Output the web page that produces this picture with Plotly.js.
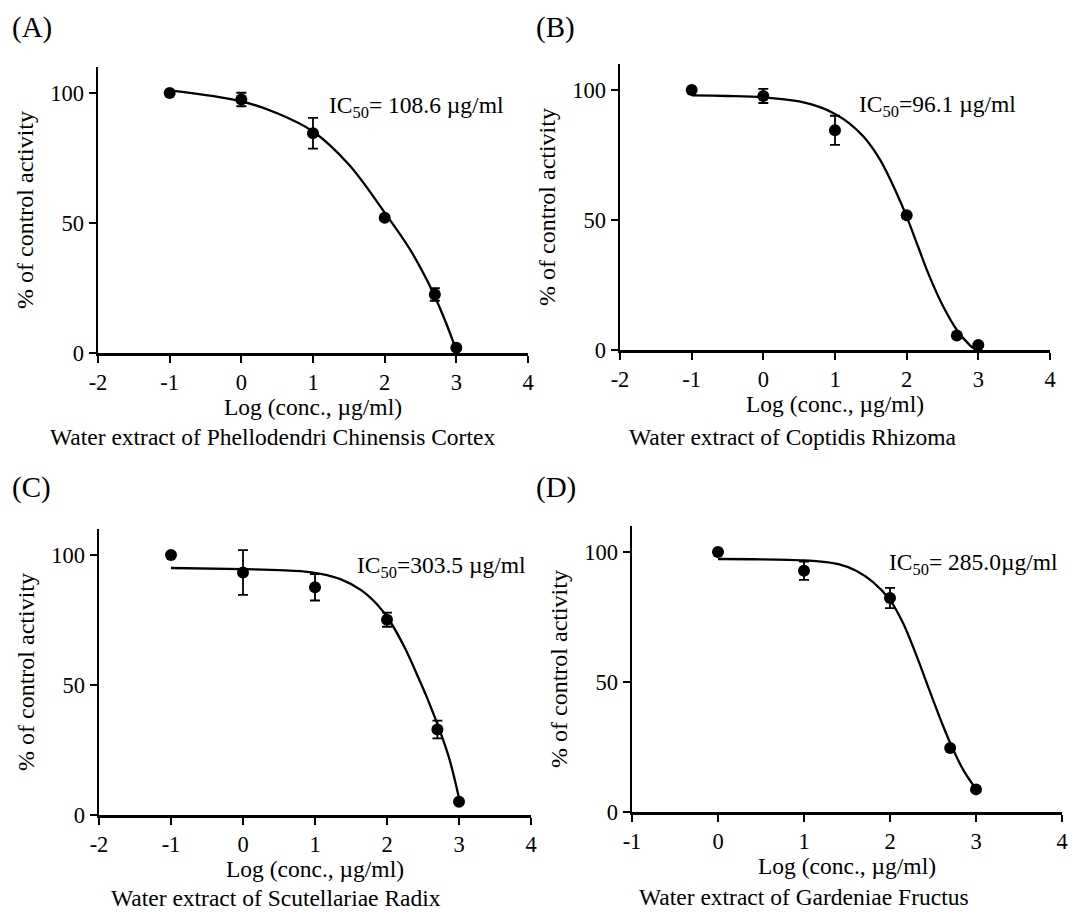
<!DOCTYPE html>
<html>
<head>
<meta charset="utf-8">
<script src="https://cdn.plot.ly/plotly-3.0.1.min.js"></script>
<style>html,body{margin:0;padding:0;background:#fff;}#chart{width:1072px;height:913px;}</style>
</head>
<body>
<div id="chart"></div>
<script>
// ---------- data ----------
// (A) Phellodendri Chinensis Cortex
const concA = [-1, 0, 1, 2, 2.7, 3];
const actA  = [100, 97.5, 84.5, 52, 22.5, 2];
const errA  = [0, 2.6, 5.9, 0, 2.4, 0];
const fitXA = [-1, 0, 0.5, 1, 1.5, 2, 2.35, 2.6, 2.7, 2.85, 3.0];
const fitYA = [101, 96.8, 92.2, 85.2, 72.5, 54.0, 40, 27.5, 21.7, 12, 1];

// (B) Coptidis Rhizoma
const concB = [-1, 0, 1, 2, 2.7, 3];
const actB  = [100, 97.7, 84.5, 51.8, 5.6, 1.9];
const errB  = [0, 2.7, 5.6, 0, 0, 0];
const fitXB = [-1, -0.5, 0, 0.5, 0.8, 1.0, 1.2, 1.4, 1.63, 1.86, 2.0, 2.16, 2.32, 2.51, 2.70, 2.88, 2.97];
const fitYB = [97.9, 97.7, 97.2, 95.6, 93.3, 90.8, 87.2, 82.0, 73.1, 60.3, 51.3, 39.7, 28.2, 16.7, 7.7, 1.9, 0];

// (C) Scutellariae Radix
const concC = [-1, 0, 1, 2, 2.7, 3];
const actC  = [100, 93.3, 87.6, 75.1, 32.9, 5.1];
const errC  = [0, 8.6, 5.1, 2.7, 3.4, 0];
const fitXC = [-1, 0, 0.5, 0.8, 1.08, 1.36, 1.64, 1.87, 2.03, 2.24, 2.43, 2.57, 2.73, 2.87, 3.0];
const fitYC = [95.0, 94.6, 94.2, 93.8, 92.7, 90.6, 86.5, 80.8, 75.0, 64.7, 53.2, 44.2, 32.7, 21.2, 6.5];

// (D) Gardeniae Fructus
const concD = [0, 1, 2, 2.7, 3];
const actD  = [100, 92.8, 82.3, 24.6, 8.7];
const errD  = [0, 3.5, 3.9, 0, 0];
const fitXD = [0, 0.5, 1.0, 1.2, 1.4, 1.6, 1.8, 2.0, 2.15, 2.3, 2.47, 2.62, 2.72, 2.85, 3.0];
const fitYD = [97.3, 97.2, 96.8, 96.3, 95.3, 92.9, 88.5, 81.5, 72.8, 60.8, 45.8, 32.9, 25.1, 16.3, 8.8];

// axis ticks and labels
const xTicks1 = [-2, -1, 0, 1, 2, 3, 4];
const xTickText1 = ['-2', '-1', '0', '1', '2', '3', '4'];
const xTicks2 = [-1, 0, 1, 2, 3, 4];
const xTickText2 = ['-1', '0', '1', '2', '3', '4'];
const yTicks = [0, 50, 100];
const yTickText = ['0', '50', '100'];

const panelLabels = ['(A)', '(B)', '(C)', '(D)'];
const extractNames = [
  'Water extract of Phellodendri Chinensis Cortex',
  'Water extract of Coptidis Rhizoma',
  'Water extract of Scutellariae Radix',
  'Water extract of Gardeniae Fructus'
];
const ic50Text = [
  'IC<sub>50</sub>= 108.6 µg/ml',
  'IC<sub>50</sub>=96.1 µg/ml',
  'IC<sub>50</sub>=303.5 µg/ml',
  'IC<sub>50</sub>= 285.0µg/ml'
];
const xTitle = 'Log (conc., µg/ml)';
const yTitle = '% of control activity';

// ---------- traces ----------
const FONT = 'Liberation Serif, "Times New Roman", Times, serif';
const sets = [
  {cx: concA, cy: actA, e: errA, fx: fitXA, fy: fitYA, ax: ''},
  {cx: concB, cy: actB, e: errB, fx: fitXB, fy: fitYB, ax: '2'},
  {cx: concC, cy: actC, e: errC, fx: fitXC, fy: fitYC, ax: '3'},
  {cx: concD, cy: actD, e: errD, fx: fitXD, fy: fitYD, ax: '4'}
];
const traces = [];
sets.forEach(s => {
  traces.push({
    type: 'scatter', mode: 'lines', x: s.fx, y: s.fy,
    xaxis: 'x' + s.ax, yaxis: 'y' + s.ax,
    line: {color: 'black', width: 2.3, shape: 'spline', smoothing: 1},
    hoverinfo: 'skip', cliponaxis: false
  });
  traces.push({
    type: 'scatter', mode: 'markers', x: s.cx, y: s.cy,
    xaxis: 'x' + s.ax, yaxis: 'y' + s.ax,
    marker: {color: 'black', size: 12},
    error_y: {type: 'data', array: s.e, visible: true, color: 'black', thickness: 1.8, width: 5},
    cliponaxis: false
  });
});

// ---------- layout ----------
function xAx(domain, anchor, tv, tt) {
  return {
    domain: domain, anchor: anchor, range: [tv[0], 4],
    tickvals: tv, ticktext: tt, ticks: 'outside', ticklen: 7, tickwidth: 2, tickcolor: 'black',
    showline: true, linewidth: 2.5, linecolor: 'black', mirror: false,
    showgrid: false, zeroline: false, fixedrange: true,
    tickfont: {family: FONT, size: 22.5, color: 'black'},
    title: {text: xTitle, font: {family: FONT, size: 23.5, color: 'black'}, standoff: 5}
  };
}
function yAx(domain, anchor) {
  return {
    domain: domain, anchor: anchor, range: [0, 110],
    tickvals: yTicks, ticktext: yTickText, ticks: 'outside', ticklen: 7, tickwidth: 2, tickcolor: 'black',
    showline: true, linewidth: 2.5, linecolor: 'black',
    showgrid: false, zeroline: false, fixedrange: true,
    tickfont: {family: FONT, size: 22.5, color: 'black'},
    title: {text: yTitle, font: {family: FONT, size: 24, color: 'black'}, standoff: 10}
  };
}

const annFont = {family: FONT, size: 23.5, color: 'black'};
const lblFont = {family: FONT, size: 29, color: 'black'};
const subFont = {family: FONT, size: 23.5, color: 'black'};
function paperText(text, px, py, anchor, font) {
  return {text: text, xref: 'paper', yref: 'paper', x: px / 1072, y: 1 - py / 913,
          xanchor: anchor, yanchor: 'middle', showarrow: false, font: font};
}
const annotations = [
  // panel letters
  paperText(panelLabels[0], 10, 27, 'left', lblFont),
  paperText(panelLabels[1], 534, 27, 'left', lblFont),
  paperText(panelLabels[2], 10, 487, 'left', lblFont),
  paperText(panelLabels[3], 534, 487, 'left', lblFont),
  // extract names
  paperText(extractNames[0], 272, 437, 'center', subFont),
  paperText(extractNames[1], 793, 437, 'center', subFont),
  paperText(extractNames[2], 276, 898, 'center', subFont),
  paperText(extractNames[3], 804, 897, 'center', subFont),
  // IC50 labels
  {text: ic50Text[0], xref: 'x', yref: 'y', x: 1.19, y: 94.6, xanchor: 'left', yanchor: 'middle', showarrow: false, font: annFont},
  {text: ic50Text[1], xref: 'x2', yref: 'y2', x: 1.30, y: 93.8, xanchor: 'left', yanchor: 'middle', showarrow: false, font: annFont},
  {text: ic50Text[2], xref: 'x3', yref: 'y3', x: 1.556, y: 95.4, xanchor: 'left', yanchor: 'middle', showarrow: false, font: annFont},
  {text: ic50Text[3], xref: 'x4', yref: 'y4', x: 1.965, y: 95.2, xanchor: 'left', yanchor: 'middle', showarrow: false, font: annFont}
];

const layout = {
  width: 1072, height: 913,
  margin: {l: 0, r: 0, t: 0, b: 0},
  paper_bgcolor: 'white', plot_bgcolor: 'white',
  showlegend: false,
  font: {family: FONT, color: 'black', size: 22},
  xaxis:  xAx([98/1072, 528/1072], 'y', xTicks1, xTickText1),
  yaxis:  yAx([1 - 353/913, 1 - 67/913], 'x'),
  xaxis2: xAx([620/1072, 1050/1072], 'y2', xTicks1, xTickText1),
  yaxis2: yAx([1 - 350/913, 1 - 64/913], 'x2'),
  xaxis3: xAx([99/1072, 531/1072], 'y3', xTicks1, xTickText1),
  yaxis3: yAx([1 - 815/913, 1 - 529/913], 'x3'),
  xaxis4: xAx([632/1072, 1062/1072], 'y4', xTicks2, xTickText2),
  yaxis4: yAx([1 - 812/913, 1 - 526/913], 'x4'),
  annotations: annotations
};

Plotly.newPlot('chart', traces, layout, {staticPlot: true, displayModeBar: false});
</script>
</body>
</html>
